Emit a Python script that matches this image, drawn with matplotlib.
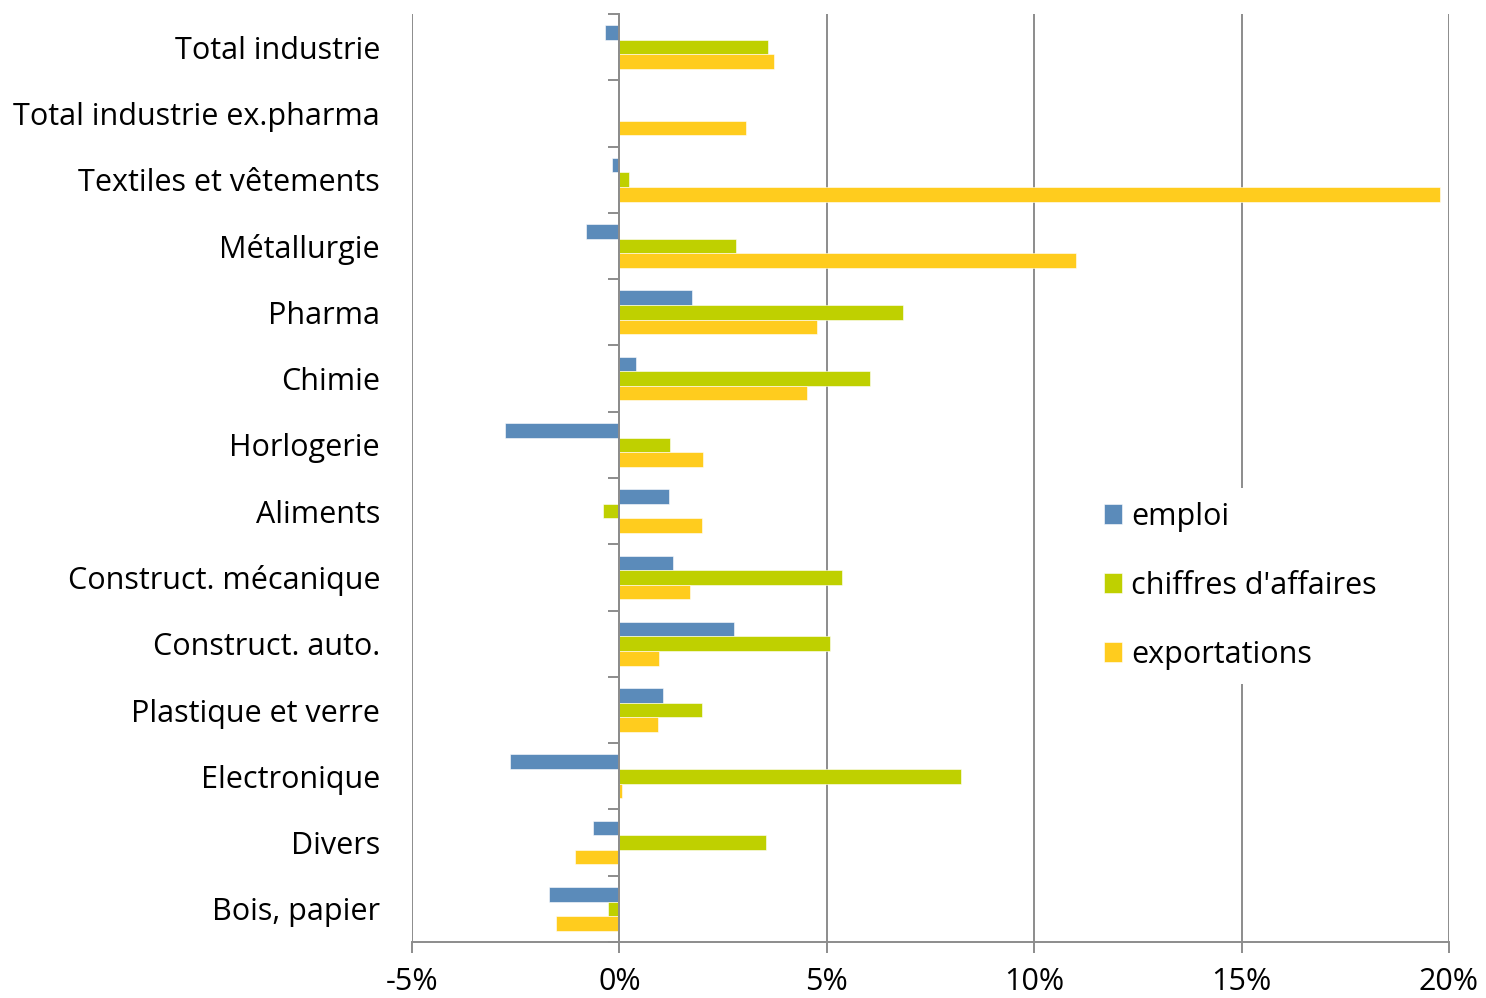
import matplotlib
matplotlib.use("Agg")
import matplotlib.pyplot as plt
import numpy as np
from matplotlib.ticker import FixedLocator, FuncFormatter

plt.rcParams['font.family'] = ['Open Sans', 'DejaVu Sans']

categories = [
    "Total industrie",
    "Total industrie ex.pharma",
    "Textiles et vêtements",
    "Métallurgie",
    "Pharma",
    "Chimie",
    "Horlogerie",
    "Aliments",
    "Construct. mécanique",
    "Construct. auto.",
    "Plastique et verre",
    "Electronique",
    "Divers",
    "Bois, papier",
]

emploi = [-0.34, 0.0, -0.17, -0.80, 1.76, 0.41, -2.75, 1.20, 1.28, 2.75, 1.06, -2.65, -0.63, -1.69]
chiffres = [3.59, 0.0, 0.22, 2.82, 6.84, 6.05, 1.23, -0.39, 5.37, 5.08, 1.98, 8.24, 3.54, -0.27]
exportations = [3.73, 3.06, 19.78, 11.01, 4.77, 4.53, 2.02, 1.98, 1.69, 0.96, 0.94, 0.07, -1.06, -1.54]

series_labels = ["emploi", "chiffres d'affaires", "exportations"]
colors = ["#5B8BBA", "#BFD000", "#FFCC1E"]
x_ticks = [-5, 0, 5, 10, 15, 20]

grid_color = "#8C8C8C"
fs = 22

fig = plt.figure(figsize=(14.86, 9.98), dpi=100)
ax = fig.add_axes([0.2773, 0.0561, 0.6978, 0.9299])

y = np.arange(len(categories))
h = 0.22
for i, (vals, lab, col) in enumerate(zip([emploi, chiffres, exportations], series_labels, colors)):
    ax.barh(y + (i - 1) * h, vals, height=h, color=col, label=lab,
            edgecolor="white", linewidth=0.4, zorder=3)

ax.set_xlim(-5, 20)
ax.set_ylim(len(categories) - 0.5, -0.5)

ax.set_xticks(x_ticks)
ax.xaxis.set_major_formatter(FuncFormatter(lambda v, p: f"{v:.0f}%"))
ax.tick_params(axis="x", length=8, width=1.4, color=grid_color, labelsize=fs, pad=10)
ax.grid(axis="x", color=grid_color, linewidth=1.4, zorder=0)

ax.set_yticks(y)
ax.set_yticklabels(categories)
ax.tick_params(axis="y", length=0, labelsize=fs, pad=23)

for s in ["top", "right", "left"]:
    ax.spines[s].set_visible(False)
ax.spines["bottom"].set_color(grid_color)
ax.spines["bottom"].set_linewidth(1.4)

# vertical axis line at 0 with category separator ticks
zero_pos = (0 - (-5)) / 25
sec = ax.secondary_yaxis(zero_pos)
sec.spines["left"].set_color(grid_color)
sec.spines["left"].set_linewidth(1.4)
sec.yaxis.set_major_locator(FixedLocator(np.arange(-0.5, len(categories), 1.0)))
sec.tick_params(axis="y", length=8, width=1.4, color=grid_color, labelleft=False, direction="out")
sec.set_zorder(4)

leg = ax.legend(loc="center left", bbox_to_anchor=(0.7336, 0.413), bbox_transform=fig.transFigure,
                frameon=True, fontsize=fs, handlelength=0.6, handleheight=0.6,
                handletextpad=0.3, labelspacing=1.28, borderpad=0.45, borderaxespad=0)
leg.get_frame().set_edgecolor("none")
leg.get_frame().set_facecolor("white")
leg.get_frame().set_alpha(1)
leg.set_zorder(5)

fig.savefig("out.png", dpi=100)
